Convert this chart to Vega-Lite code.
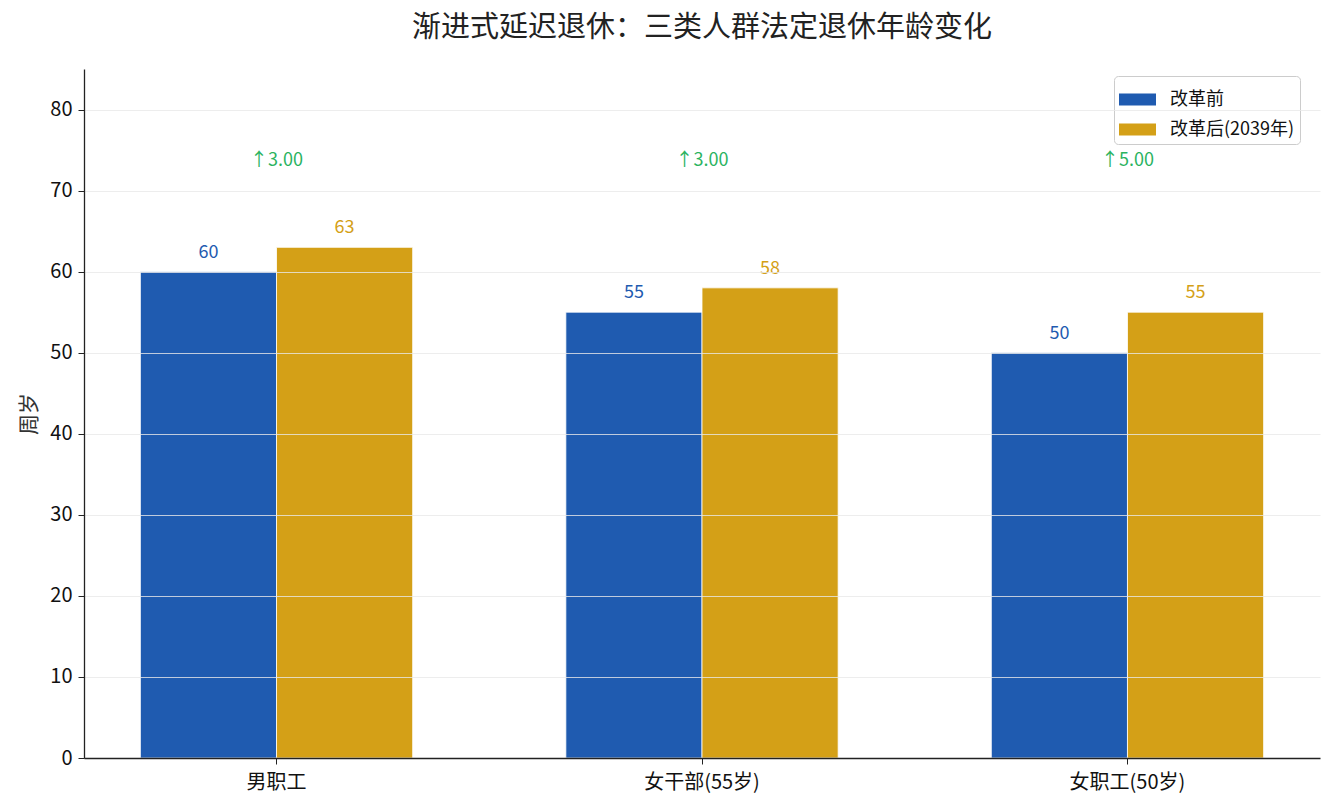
{
  "$schema": "https://vega.github.io/schema/vega-lite/v6.json",
  "autosize": {"type": "none"},
  "width": 1236,
  "height": 689,
  "padding": {"left": 84, "top": 69, "right": 15, "bottom": 52},
  "background": "white",
  "title": {
    "text": "渐进式延迟退休：三类人群法定退休年龄变化",
    "fontSize": 29,
    "fontWeight": "normal",
    "font": "Noto Sans CJK SC",
    "color": "#222222",
    "anchor": "middle",
    "offset": 26
  },
  "config": {
    "font": "Noto Sans CJK SC",
    "view": {"stroke": null}
  },
  "datasets": {
    "bars": [
      {"group": "男职工", "period": "改革前", "age": 60},
      {"group": "男职工", "period": "改革后(2039年)", "age": 63},
      {"group": "女干部(55岁)", "period": "改革前", "age": 55},
      {"group": "女干部(55岁)", "period": "改革后(2039年)", "age": 58},
      {"group": "女职工(50岁)", "period": "改革前", "age": 50},
      {"group": "女职工(50岁)", "period": "改革后(2039年)", "age": 55}
    ],
    "deltas": [
      {"group": "男职工", "label": "↑3.00"},
      {"group": "女干部(55岁)", "label": "↑3.00"},
      {"group": "女职工(50岁)", "label": "↑5.00"}
    ]
  },
  "encoding": {
    "x": {
      "field": "group",
      "type": "nominal",
      "sort": ["男职工", "女干部(55岁)", "女职工(50岁)"],
      "title": null,
      "scale": {"paddingInner": 0.36, "paddingOuter": 0.1325},
      "axis": {
        "labelAngle": 0,
        "labelFontSize": 20,
        "labelColor": "#111111",
        "labelPadding": 8,
        "tickSize": 6,
        "tickColor": "#222222",
        "domainColor": "#222222",
        "domainWidth": 1.3,
        "zindex": 2
      }
    }
  },
  "layer": [
    {
      "data": {"name": "bars"},
      "mark": {"type": "bar", "stroke": "white", "strokeWidth": 0.8},
      "encoding": {
        "xOffset": {
          "field": "period",
          "type": "nominal",
          "sort": ["改革前", "改革后(2039年)"],
          "scale": {"paddingInner": 0, "paddingOuter": 0}
        },
        "y": {
          "field": "age",
          "type": "quantitative",
          "title": "周岁",
          "scale": {"domain": [0, 85], "nice": false},
          "axis": {
            "values": [0, 10, 20, 30, 40, 50, 60, 70, 80],
            "labelFontSize": 20,
            "labelColor": "#111111",
            "labelPadding": 6,
            "titleFontSize": 21,
            "titleFontWeight": "normal",
            "titleColor": "#333333",
            "titlePadding": 10,
            "tickSize": 6,
            "tickColor": "#222222",
            "domainColor": "#222222",
            "domainWidth": 1.3,
            "grid": true,
            "gridColor": "#e8e8e8",
            "gridWidth": 0.8,
            "zindex": 1
          }
        },
        "color": {
          "field": "period",
          "type": "nominal",
          "sort": ["改革前", "改革后(2039年)"],
          "scale": {"domain": ["改革前", "改革后(2039年)"], "range": ["#1f5bb0", "#d4a017"]},
          "legend": {
            "title": null,
            "orient": "none",
            "legendX": 1030,
            "legendY": 7,
            "labelFontSize": 18,
            "labelColor": "#111111",
            "symbolType": "M-1,-0.33H1V0.33H-1Z",
            "symbolSize": 1369,
            "symbolStrokeWidth": 0,
            "symbolOpacity": 1,
            "rowPadding": 2,
            "labelOffset": 14,
            "padding": 5,
            "strokeColor": "#cccccc",
            "fillColor": "white",
            "cornerRadius": 4
          }
        }
      }
    },
    {
      "data": {"name": "bars"},
      "mark": {"type": "text", "baseline": "bottom", "dy": -10, "fontSize": 18},
      "encoding": {
        "xOffset": {
          "field": "period",
          "type": "nominal",
          "sort": ["改革前", "改革后(2039年)"],
          "scale": {"paddingInner": 0, "paddingOuter": 0}
        },
        "y": {"field": "age", "type": "quantitative"},
        "text": {"field": "age", "type": "quantitative"},
        "color": {"field": "period", "type": "nominal", "legend": null}
      }
    },
    {
      "data": {"name": "deltas"},
      "mark": {"type": "text", "baseline": "middle", "fontSize": 18, "color": "#2bb35f"},
      "encoding": {
        "y": {"datum": 73.6},
        "text": {"field": "label", "type": "nominal"}
      }
    }
  ]
}
